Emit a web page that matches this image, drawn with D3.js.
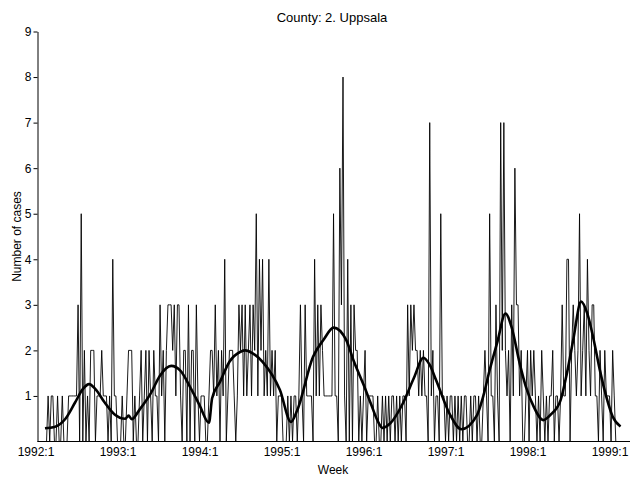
<!DOCTYPE html>
<html>
<head>
<meta charset="utf-8">
<script src="https://cdn.jsdelivr.net/npm/d3@7"></script>
<style>
  html, body { margin: 0; padding: 0; background: #fff; }
  svg { display: block; font-family: "Liberation Sans", Arial, Helvetica, sans-serif; }
</style>
</head>
<body>
<svg id="chart" width="630" height="479"></svg>
<script>
// Weekly reported cases, Uppsala county, starting at week index 6 (1992:7)
const firstWeek = 6;
const weeklyCases = [
  0,0,1,0,1,1,0,0,1,0,            // 6-15
  0,1,0,0,0,1,1,1,1,1,            // 16-25
  1,3,0,5,0,2,0,1,0,2,            // 26-35
  2,2,0,1,1,1,2,1,1,1,            // 36-45
  0,1,0,4,1,1,0,0,0,1,            // 46-55
  0,0,1,2,2,2,0,1,0,0,            // 56-65
  1,2,0,1,2,0,2,1,0,2,            // 66-75
  1,1,0,3,1,2,0,2,3,3,            // 76-85
  3,2,3,1,3,3,1,0,2,2,            // 86-95
  0,3,0,2,2,0,3,1,0,1,            // 96-105
  1,1,0,0,1,2,2,1,3,1,            // 106-115
  2,0,2,1,4,0,1,2,2,2,            // 116-125
  1,0,1,3,2,3,1,3,1,2,            // 126-135
  3,1,3,2,5,1,4,2,4,1,            // 136-145
  2,1,4,1,2,1,2,0,1,1,            // 146-155
  1,0,0,0,1,0,1,0,1,1,            // 156-165
  0,1,3,1,0,3,1,1,1,1,            // 166-175
  0,4,1,3,1,3,2,1,1,1,            // 176-185
  1,1,1,5,1,1,0,6,3,8,            // 186-195
  1,0,4,0,3,0,3,2,2,0,            // 196-205
  1,0,1,2,0,1,1,1,1,0,            // 206-215
  0,1,0,0,1,0,1,0,1,0,            // 216-225
  1,1,0,1,0,1,0,1,1,0,            // 226-235
  3,1,3,2,3,2,2,1,2,1,            // 236-245
  2,1,1,0,7,1,2,0,1,1,            // 246-255
  0,5,1,1,0,1,0,1,1,0,            // 256-265
  1,0,1,0,1,0,1,1,0,0,            // 266-275
  1,0,1,1,0,1,0,0,1,2,            // 276-285
  1,0,5,1,1,0,3,1,0,7,            // 286-295
  2,7,2,1,2,0,3,1,6,3,            // 296-305
  3,1,2,0,0,1,2,0,2,1,            // 306-315
  2,1,0,1,0,2,1,0,1,0,            // 316-325
  1,1,2,0,1,1,0,1,3,1,            // 326-335
  1,4,4,0,2,3,2,1,2,5,            // 336-345
  1,2,3,1,4,2,1,3,3,1,            // 346-355
  1,0,2,1,0,2,1,1,1,0,            // 356-365
  2,1,0,0                         // 366-369
];

// Smoothed seasonal trend: week index and expected cases
const trendWeek  = [6, 12, 19, 25, 30, 34, 38, 44, 50, 57, 59, 61, 66, 73, 79, 86, 92, 98, 104, 110,
                    112, 117, 123, 130, 133, 138, 144, 155, 162, 166, 176, 183, 189, 197, 202, 208, 213, 217, 220, 225,
                    233, 240, 246, 250, 254, 263, 270, 280, 284, 288, 293, 298, 302, 307, 311, 316, 322, 327, 333, 337,
                    341, 346, 350, 354, 358, 362, 366, 371];
const trendValue = [0.29, 0.32, 0.5, 0.85, 1.15, 1.26, 1.15, 0.85, 0.6, 0.5, 0.57, 0.49, 0.7, 1.05, 1.45, 1.66, 1.55, 1.2, 0.8, 0.41,
                    0.95, 1.31, 1.75, 1.97, 2.0, 1.93, 1.75, 1.13, 0.43, 0.69, 1.86, 2.25, 2.5, 2.23, 1.75, 1.25, 0.8, 0.45, 0.3, 0.4,
                    0.84, 1.4, 1.84, 1.68, 1.35, 0.58, 0.27, 0.58, 1.0, 1.57, 2.2, 2.81, 2.5, 1.72, 1.2, 0.76, 0.47, 0.6, 0.91, 1.5,
                    2.23, 3.07, 2.8, 2.23, 1.55, 0.98, 0.55, 0.33];

// Axis ticks
const yTicks = [1, 2, 3, 4, 5, 6, 7, 8, 9];
const yearTicks = [0, 52, 104, 156, 208, 260, 312, 364];
const yearLabels = ["1992:1", "1993:1", "1994:1", "1995:1", "1996:1", "1997:1", "1998:1", "1999:1"];

const titleText = "County: 2. Uppsala";
const xTitle = "Week";
const yTitle = "Number of cases";

const svg = d3.select("#chart");
const axisX = 37.5, baseY = 441.5, topY = 31.5, rightEdge = 630;

const x = d3.scaleLinear().domain([0, 364]).range([35.5, 609.5]);
const y = d3.scaleLinear().domain([0, 9]).range([baseY, topY]);

const series = weeklyCases.map((v, i) => ({ w: firstWeek + i, v }));
const trend = trendWeek.map((w, i) => ({ w, v: trendValue[i] }));

// Weekly counts (thin polyline)
svg.append("path")
  .datum(series)
  .attr("fill", "none")
  .attr("stroke", "#000")
  .attr("stroke-width", 0.9)
  .attr("stroke-linejoin", "miter")
  .attr("d", d3.line().x(d => x(d.w)).y(d => y(d.v)));

// Trend (thick smooth curve)
svg.append("path")
  .datum(trend)
  .attr("fill", "none")
  .attr("stroke", "#000")
  .attr("stroke-width", 2.6)
  .attr("stroke-linejoin", "round")
  .attr("d", d3.line().curve(d3.curveMonotoneX).x(d => x(d.w)).y(d => y(d.v)));

// Y axis
const yAxis = svg.append("g")
  .attr("transform", `translate(${axisX},0)`)
  .call(d3.axisLeft(y).tickValues(yTicks).tickFormat(d3.format("d")).tickSize(4).tickSizeOuter(0).tickPadding(2));
yAxis.select(".domain").attr("stroke", "#000").attr("stroke-width", 1);
yAxis.selectAll(".tick line").attr("stroke", "#000");
yAxis.selectAll(".tick text").attr("font-size", 12).attr("fill", "#000");
yAxis.attr("font-family", null);

// X axis (labels only) plus baseline
const xAxis = svg.append("g")
  .attr("transform", `translate(0,${baseY})`)
  .call(d3.axisBottom(x).tickValues(yearTicks).tickFormat((d, i) => yearLabels[i]).tickSize(0).tickPadding(6));
xAxis.select(".domain").remove();
xAxis.selectAll(".tick text").attr("font-size", 12).attr("fill", "#000");
xAxis.attr("font-family", null);

svg.append("line")
  .attr("x1", axisX).attr("x2", rightEdge)
  .attr("y1", baseY).attr("y2", baseY)
  .attr("stroke", "#000").attr("stroke-width", 1);

// Titles
svg.append("text")
  .attr("x", 332).attr("y", 22)
  .attr("text-anchor", "middle").attr("font-size", 13)
  .text(titleText);

svg.append("text")
  .attr("x", 333).attr("y", 474)
  .attr("text-anchor", "middle").attr("font-size", 12)
  .text(xTitle);

svg.append("text")
  .attr("transform", `translate(21,${(baseY + topY) / 2}) rotate(-90)`)
  .attr("text-anchor", "middle").attr("font-size", 12)
  .text(yTitle);
</script>
</body>
</html>
